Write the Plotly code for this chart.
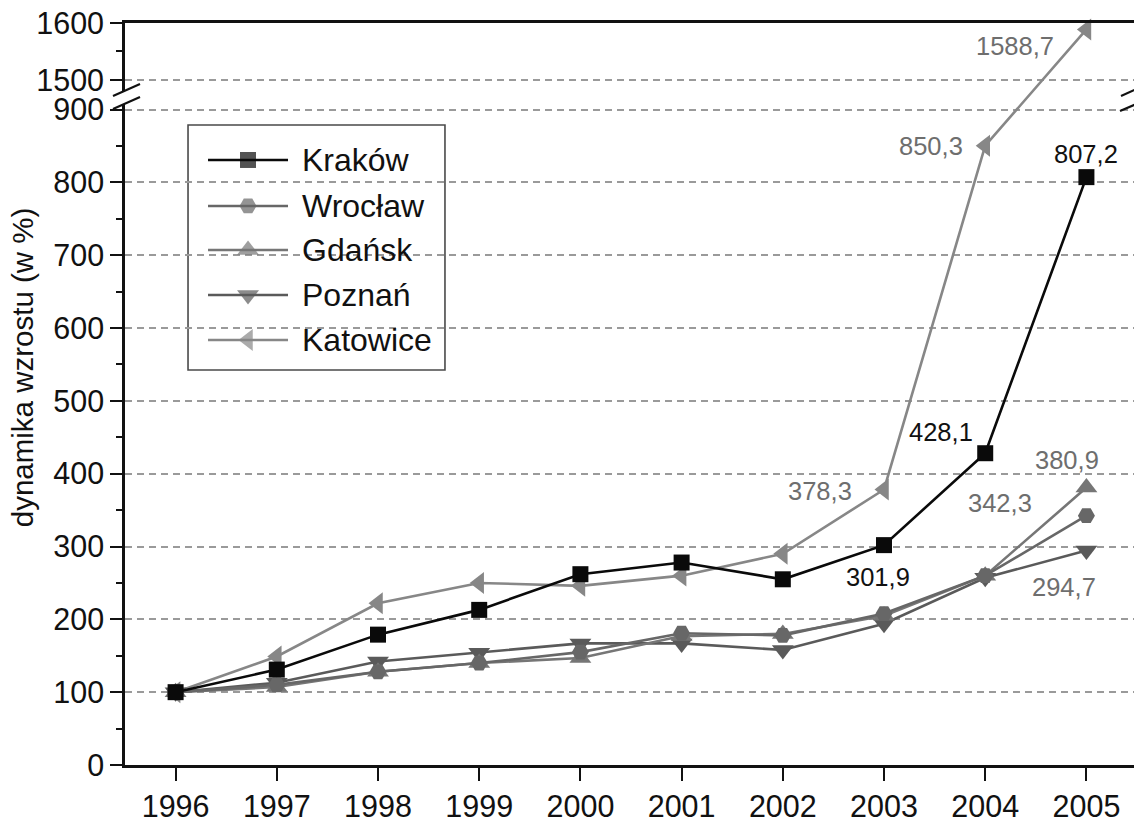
import plotly.graph_objects as go

# ---------------- data ----------------
years = [1996, 1997, 1998, 1999, 2000, 2001, 2002, 2003, 2004, 2005]
krakow = [100, 131, 179, 213, 262, 278, 255, 301.9, 428.1, 807.2]
wroclaw = [100, 110, 128, 140, 155, 181, 178, 208, 260, 342.3]
gdansk = [100, 107, 128, 140, 147, 177, 180, 205, 260, 380.9]
poznan = [100, 113, 142, 154, 167, 167, 158, 194, 257, 294.7]
katowice = [100, 149, 222, 250, 246, 260, 290, 378.3, 850.3, 1588.7]

y_major = [0, 100, 200, 300, 400, 500, 600, 700, 800, 900, 1500, 1600]
y_minor = [50, 150, 250, 350, 450, 550, 650, 750, 850, 1550]

# ---------------- broken axis transform ----------------
BREAK_LOW = 925.0    # top of lower segment
BREAK_HIGH = 1480.0  # bottom of upper segment
K_UPPER = 0.782      # relative scale of upper segment


def f(v):
    return v if v <= BREAK_LOW else BREAK_LOW + (v - BREAK_HIGH) * K_UPPER


def tf(vals):
    return [f(v) for v in vals]


FONT = "Liberation Sans, Arial, sans-serif"
GRAY_LABEL = "#6e6e6e"

series = [
    # name, values, color, symbol, size
    ("Katowice", katowice, "#878787", "triangle-left", 19),
    ("Poznań", poznan, "#5a5a5a", "triangle-down", 19),
    ("Gdańsk", gdansk, "#767676", "triangle-up", 19),
    ("Wrocław", wroclaw, "#676767", "hexagon2", 17),
    ("Kraków", krakow, "#0a0a0a", "square", 16),
]

fig = go.Figure()
for name, vals, col, sym, sz in series:
    fig.add_trace(go.Scatter(
        x=years, y=tf(vals), name=name, mode="lines+markers",
        line=dict(color=col, width=2.6),
        marker=dict(symbol=sym, size=sz, color=col, line=dict(width=0)),
        cliponaxis=False, showlegend=False,
    ))

# ---------------- manual legend (paper space overlay) ----------------
legend_order = ["Kraków", "Wrocław", "Gdańsk", "Poznań", "Katowice"]
legend_y = [0.8154, 0.7534, 0.6941, 0.6334, 0.5728]
style = {s[0]: s for s in series}
lx0, lxm, lx1, ltext = 0.0822, 0.1218, 0.1614, 0.1733
for name, yy in zip(legend_order, legend_y):
    _, _, col, sym, sz = style[name]
    fig.add_trace(go.Scatter(
        x=[lx0, lxm, lx1], y=[yy, yy, yy], mode="lines+markers",
        line=dict(color=col, width=2.6),
        marker=dict(symbol=sym, size=[0, sz, 0], color=col, line=dict(width=0)),
        xaxis="x2", yaxis="y2", showlegend=False, hoverinfo="skip",
    ))

annotations = []
for name, yy in zip(legend_order, legend_y):
    annotations.append(dict(
        x=ltext, y=yy, xref="paper", yref="paper", text=name, showarrow=False,
        xanchor="left", yanchor="middle", font=dict(family=FONT, size=32, color="#111111"),
    ))

# ---------------- data labels ----------------
def lab(year, val, text, color, xanchor, yanchor, xshift, yshift):
    annotations.append(dict(
        x=year, y=f(val), xref="x", yref="y", text=text, showarrow=False,
        xanchor=xanchor, yanchor=yanchor, xshift=xshift, yshift=yshift,
        font=dict(family=FONT, size=25.5, color=color),
    ))


def fmt(v):
    return f"{v:.1f}".replace(".", ",")


lab(2005, krakow[9], fmt(krakow[9]), "#111111", "center", "bottom", 0, 7)
lab(2004, krakow[8], fmt(krakow[8]), "#111111", "right", "middle", -10, 21)
lab(2003, krakow[7], fmt(krakow[7]), "#111111", "center", "middle", -6, -32)
lab(2003, katowice[7], fmt(katowice[7]), GRAY_LABEL, "right", "middle", -30, -2)
lab(2004, katowice[8], fmt(katowice[8]), GRAY_LABEL, "right", "middle", -20, 0)
lab(2005, katowice[9], fmt(katowice[9]), GRAY_LABEL, "right", "middle", -30, -17)
lab(2005, gdansk[9], fmt(gdansk[9]), GRAY_LABEL, "center", "middle", -19, 28)
lab(2005, wroclaw[9], fmt(wroclaw[9]), GRAY_LABEL, "right", "middle", -52, 13)
lab(2005, poznan[9], fmt(poznan[9]), GRAY_LABEL, "center", "middle", -22, -37)

# y-axis title
annotations.append(dict(
    x=-0.102, y=0.536, xref="paper", yref="paper", text="dynamika wzrostu (w %)",
    textangle=-90, showarrow=False, xanchor="center", yanchor="middle",
    font=dict(family=FONT, size=29.5, color="#111111"),
))

# ---------------- shapes: legend box, axis breaks ----------------
W, H = 1010.0, 742.0  # plot area size in px (for converting break marks)


def px(xp):
    return (xp - 125) / W


def py(yp):
    return (765 - yp) / H


shapes = [
    dict(type="rect", xref="paper", yref="paper", x0=0.0624, x1=0.3168, y0=0.5323, y1=0.8625,
         fillcolor="white", line=dict(color="#4a4a4a", width=1.6), layer="between"),
    # white gaps in the left / right axis lines
    dict(type="rect", xref="paper", yref="paper", x0=px(121), x1=px(129), y0=py(104), y1=py(91),
         fillcolor="white", line=dict(width=0), layer="above"),
    dict(type="rect", xref="paper", yref="paper", x0=px(1131), x1=px(1139), y0=py(106), y1=py(92),
         fillcolor="white", line=dict(width=0), layer="above"),
    # break slashes
    dict(type="line", xref="paper", yref="paper", x0=px(113), y0=py(96), x1=px(140), y1=py(84),
         line=dict(color="#111111", width=2.2), layer="above"),
    dict(type="line", xref="paper", yref="paper", x0=px(113), y0=py(109), x1=px(140), y1=py(97),
         line=dict(color="#111111", width=2.2), layer="above"),
    dict(type="line", xref="paper", yref="paper", x0=px(1121), x1=px(1141), y0=py(96), y1=py(87),
         line=dict(color="#111111", width=2.2), layer="above"),
    dict(type="line", xref="paper", yref="paper", x0=px(1120), x1=px(1141), y0=py(111), y1=py(102),
         line=dict(color="#111111", width=2.2), layer="above"),
]

# the page body adds an ~8px offset, so the figure is sized to fit the window
fig.update_layout(
    width=1134, height=810,
    margin=dict(l=117, r=7, t=15, b=53, autoexpand=False),
    paper_bgcolor="white", plot_bgcolor="white",
    font=dict(family=FONT, size=30, color="#111111"),
    showlegend=False,
    annotations=annotations,
    shapes=shapes,
    xaxis=dict(
        range=[1995.5, 2005.48], tickmode="array", tickvals=years,
        ticktext=[str(y) for y in years], automargin=False, ticklabeloverflow="allow",
        ticks="outside", ticklen=13, tickwidth=2.2, tickcolor="#111111",
        showline=True, linewidth=2.6, linecolor="#111111", mirror=True,
        showgrid=False, zeroline=False, tickfont=dict(size=30.5, family=FONT, color="#111111"),
    ),
    yaxis=dict(
        range=[0, f(1600)], tickmode="array", tickvals=tf(y_major),
        ticktext=[str(v) for v in y_major], automargin=False, ticklabeloverflow="allow",
        ticks="outside", ticklen=12, tickwidth=2.2, tickcolor="#111111",
        showline=True, linewidth=2.6, linecolor="#111111", mirror=True,
        showgrid=True, gridcolor="#9a9a9a", gridwidth=1.6, griddash="7px,5px",
        zeroline=False, tickfont=dict(size=30.5, family=FONT, color="#111111"),
        minor=dict(tickmode="array", tickvals=tf(y_minor), ticks="outside",
                   ticklen=6, tickwidth=2, tickcolor="#111111", showgrid=False),
    ),
    xaxis2=dict(range=[0, 1], domain=[0, 1], overlaying="x", visible=False, fixedrange=True),
    yaxis2=dict(range=[0, 1], domain=[0, 1], overlaying="y", anchor="x2", visible=False,
                fixedrange=True),
)

fig.write_html("out.html")
